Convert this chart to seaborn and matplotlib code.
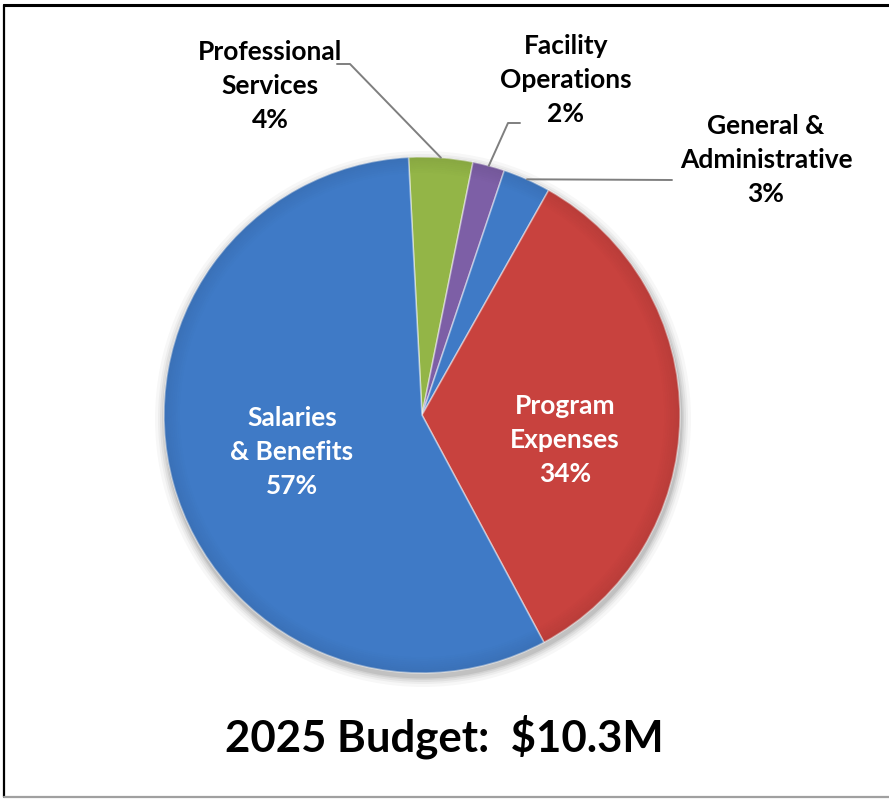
import numpy as np
import matplotlib
matplotlib.use("Agg")
import matplotlib.pyplot as plt
from matplotlib.patches import Wedge, Circle
from matplotlib.lines import Line2D
import seaborn as sns

# Budget categories, clockwise from just left of 12 o'clock
categories = ["Professional\nServices", "Facility\nOperations",
              "General &\nAdministrative", "Program\nExpenses",
              "Salaries\n& Benefits"]
shares = [4, 2, 3, 34, 57]
slice_colors = ["#93B547", "#7D5FA6", "#3F7AC6", "#C8423E", "#3F7AC6"]
title_text = "2025 Budget:  $10.3M"

sns.set_theme(style="white")
plt.rcParams["font.family"] = ["Lato", "DejaVu Sans"]

W, H = 889, 799
fig = plt.figure(figsize=(W / 100, H / 100), dpi=100)
ax = fig.add_axes([0, 0, 1, 1])

# pie geometry in pixel units (y measured upward)
cx, cy, R = 422, H - 415, 258

# soft drop shadow
for dr, a in [(10, 0.03), (7, 0.04), (5, 0.05), (3, 0.06), (1.5, 0.08)]:
    ax.add_patch(Circle((cx + 1, cy - 4), R + dr, color="black", alpha=a, lw=0, zorder=1))

wedges, _ = ax.pie(shares, colors=slice_colors, startangle=93, counterclock=False,
                   center=(cx, cy), radius=R,
                   wedgeprops=dict(linewidth=1.2, edgecolor=(1, 1, 1, 0.45), zorder=2))

# bevel: darken gradually toward the rim
for w in wedges:
    t1, t2 = w.theta1, w.theta2
    steps = 8
    for k in range(steps):
        r_out = R - k * 2.0
        ax.add_patch(Wedge((cx, cy), r_out, t1, t2, width=2.0, color="black",
                           alpha=0.07 * (steps - k) / steps, lw=0, zorder=3))

ax.set_xlim(0, W)
ax.set_ylim(0, H)
ax.set_aspect("equal")
ax.axis("off")

def P(x, y):
    return (x, H - y)

def rim_point(w):
    mid = np.deg2rad((w.theta1 + w.theta2) / 2)
    return (cx + R * np.cos(mid), cy + R * np.sin(mid))

label_fs = 19
spacing = 1.5
# outside labels with leader lines
outer = {
    0: dict(text_at=(270, 86), path=[(350, 64), (337, 64)]),
    1: dict(text_at=(566, 80), path=[(508, 123), (520, 123)]),
    2: dict(text_at=(766, 160), path=[(672, 180)]),
}
for idx, spec in outer.items():
    start = rim_point(wedges[idx])
    pts = [start] + [P(*p) for p in spec["path"]]
    xs, ys = zip(*pts)
    ax.add_line(Line2D(xs, ys, color="#7F7F7F", lw=1.4, zorder=4))
    ax.text(*P(*spec["text_at"]), f"{categories[idx]}\n{shares[idx]}%",
            ha="center", va="center", fontsize=label_fs, fontweight="bold",
            color="black", linespacing=spacing, zorder=5)

# inside labels
inner = {3: (565, 440), 4: (292, 452)}
for idx, (x, y) in inner.items():
    ax.text(*P(x, y), f"{categories[idx]}\n{shares[idx]}%",
            ha="center", va="center", fontsize=label_fs, fontweight="bold",
            color="white", linespacing=spacing, zorder=5)

ax.text(*P(444, 737), title_text, ha="center", va="center", fontsize=31.5,
        fontweight="bold", color="black", zorder=5)

# frame lines
fig.add_artist(Line2D([4 / W, 1], [1 - 5 / H, 1 - 5 / H], color="black", lw=2.2,
                      transform=fig.transFigure))
fig.add_artist(Line2D([4 / W, 4 / W], [1 - 5 / H, 2 / H], color="black", lw=1.6,
                      transform=fig.transFigure))
fig.add_artist(Line2D([4 / W, 1], [2 / H, 2 / H], color="#A0A0A0", lw=1.6,
                      transform=fig.transFigure))

fig.savefig("out.png", dpi=100, facecolor="white")
